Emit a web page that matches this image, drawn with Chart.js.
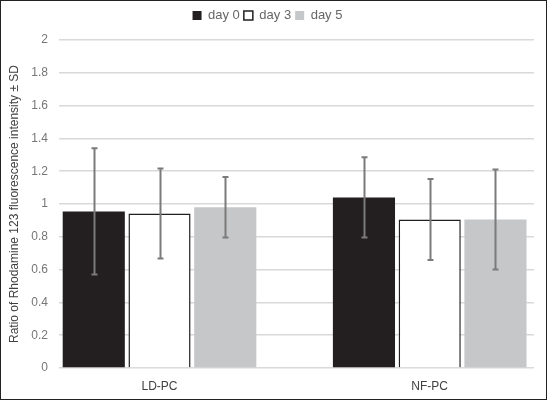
<!DOCTYPE html>
<html>
<head>
<meta charset="utf-8">
<script src="https://cdn.jsdelivr.net/npm/chart.js@4/dist/chart.umd.min.js"></script>
<style>
  html, body { margin: 0; padding: 0; background: #fff; }
  #wrap { width: 545px; height: 398px; border: 1px solid #222; position: relative; }
</style>
</head>
<body>
<div id="wrap"><canvas id="chart" width="545" height="398"></canvas></div>
<script>
// groups on the x axis
const categories = ['LD-PC', 'NF-PC'];
const seriesNames = ['day 0', 'day 3', 'day 5'];

// mean ratio per group
const day0 = [0.955, 1.04];
const day3 = [0.942, 0.905];
const day5 = [0.98, 0.905];

// standard deviation per group
const day0Sd = [0.385, 0.245];
const day3Sd = [0.275, 0.247];
const day5Sd = [0.185, 0.305];

const yTicks = [0, 0.2, 0.4, 0.6, 0.8, 1, 1.2, 1.4, 1.6, 1.8, 2];

const FONT = '"Liberation Sans", Arial, sans-serif';

function toPoints(values) {
    return values.map((v, i) => ({ x: i, y: v }));
}

// draws the grey ± SD whiskers on top of each bar
const errorBars = {
    id: 'errorBars',
    afterDatasetsDraw(chart) {
        const ctx = chart.ctx;
        const yScale = chart.scales.y;
        ctx.save();
        ctx.strokeStyle = '#7b7b7b';
        ctx.lineWidth = 2;
        chart.data.datasets.forEach((ds, di) => {
            const meta = chart.getDatasetMeta(di);
            meta.data.forEach((bar, i) => {
                const v = ds.data[i].y;
                const sd = ds.sd[i];
                const top = yScale.getPixelForValue(v + sd);
                const bottom = yScale.getPixelForValue(v - sd);
                const x = Math.round(bar.x) + 0.5;
                ctx.beginPath();
                ctx.moveTo(x, top);
                ctx.lineTo(x, bottom);
                ctx.moveTo(x - 3, top);
                ctx.lineTo(x + 3, top);
                ctx.moveTo(x - 3, bottom);
                ctx.lineTo(x + 3, bottom);
                ctx.stroke();
            });
        });
        ctx.restore();
    }
};

const ctx = document.getElementById('chart').getContext('2d');
new Chart(ctx, {
    type: 'bar',
    data: {
        datasets: [
            {
                label: seriesNames[0],
                data: toPoints(day0),
                sd: day0Sd,
                backgroundColor: '#231f20',
                borderColor: '#231f20',
                borderWidth: 0
            },
            {
                label: seriesNames[1],
                data: toPoints(day3),
                sd: day3Sd,
                backgroundColor: '#ffffff',
                borderColor: '#231f20',
                borderWidth: 1.5
            },
            {
                label: seriesNames[2],
                data: toPoints(day5),
                sd: day5Sd,
                backgroundColor: '#c6c7c9',
                borderColor: '#c6c7c9',
                borderWidth: 0
            }
        ]
    },
    options: {
        responsive: false,
        animation: false,
        categoryPercentage: 0.73,
        barPercentage: 0.945,
        layout: {
            padding: { left: 0, right: 12, top: 4, bottom: 0 }
        },
        plugins: {
            legend: {
                position: 'top',
                labels: {
                    font: { family: FONT, size: 13 },
                    color: '#666666',
                    boxWidth: 9,
                    boxHeight: 9,
                    padding: 4,
                    useBorderRadius: false,
                    generateLabels(chart) {
                        return chart.data.datasets.map((ds, i) => ({
                            text: ds.label,
                            fillStyle: ds.backgroundColor,
                            strokeStyle: '#231f20',
                            lineWidth: i === 1 ? 1.5 : 0,
                            fontColor: '#666666',
                            datasetIndex: i
                        }));
                    }
                }
            },
            tooltip: { enabled: false }
        },
        scales: {
            x: {
                type: 'linear',
                offset: false,
                min: -0.372,
                max: 1.386,
                grid: { display: false },
                border: { display: false },
                afterBuildTicks(axis) {
                    axis.ticks = categories.map((c, i) => ({ value: i }));
                },
                afterFit(axis) {
                    axis.height = 31;
                },
                ticks: {
                    font: { family: FONT, size: 12 },
                    color: '#404040',
                    padding: 3,
                    maxRotation: 0,
                    callback: (v) => categories[v]
                }
            },
            y: {
                min: 0,
                max: 2,
                afterBuildTicks(axis) {
                    axis.ticks = yTicks.map(v => ({ value: v }));
                },
                afterFit(axis) {
                    axis.width = 58;
                },
                grid: {
                    color: '#d9d9d9',
                    lineWidth: 1.5,
                    drawTicks: false
                },
                border: { display: false },
                ticks: {
                    font: { family: FONT, size: 12 },
                    color: '#767676',
                    padding: 11,
                    callback: (v) => String(v)
                },
                title: {
                    display: true,
                    text: 'Ratio of Rhodamine 123 fluorescence intensity ± SD',
                    font: { family: FONT, size: 12 },
                    color: '#404040',
                    padding: { top: 6, bottom: 0 }
                }
            }
        }
    },
    plugins: [errorBars, {
        id: 'legendGap',
        beforeInit(chart) {
            const fit = chart.legend.fit;
            chart.legend.fit = function () {
                fit.bind(chart.legend)();
                this.height += 8;
            };
        }
    }]
});
</script>
</body>
</html>
